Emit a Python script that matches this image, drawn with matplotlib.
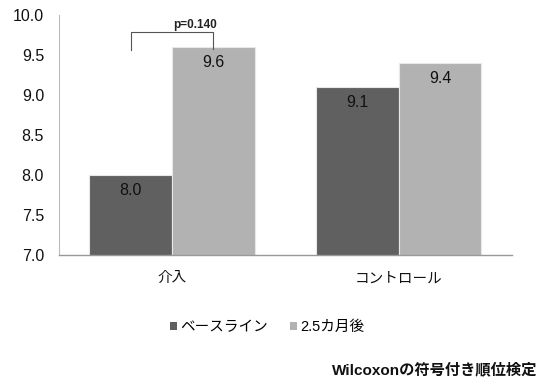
import matplotlib
matplotlib.use("Agg")
import matplotlib.pyplot as plt
import numpy as np
from matplotlib.patches import Patch

plt.rcParams['font.family'] = ['Liberation Sans', 'Noto Sans CJK JP', 'DejaVu Sans']

categories = ["介入", "コントロール"]
series_names = ["ベースライン", "2.5カ月後"]
baseline = [8.0, 9.1]
after = [9.6, 9.4]
yticks = [7.0, 7.5, 8.0, 8.5, 9.0, 9.5, 10.0]
p_label = "p=0.140"
note = "Wilcoxonの符号付き順位検定"

dark = "#606060"
light = "#b2b2b2"

fig = plt.figure(figsize=(5.43, 3.85), dpi=100)
ax = fig.add_axes([0.108, 0.3385, 0.835, 0.6225])

x = np.arange(len(categories))
w = 0.365
ax.bar(x - w/2, baseline, w, color=dark, edgecolor="#e8e8e8", linewidth=0.8)
ax.bar(x + w/2, after, w, color=light, edgecolor="#e8e8e8", linewidth=0.8)

ax.set_ylim(7.0, 10.0)
ax.set_xlim(-0.5, 1.5)
ax.set_yticks(yticks)
ax.set_yticklabels([f"{v:.1f}" for v in yticks], fontsize=11.5, color="#111111")
ax.set_xticks(x)
ax.set_xticklabels(categories, fontsize=10.5, color="#111111")
ax.tick_params(axis="both", length=0)
ax.tick_params(axis="x", pad=12)
ax.tick_params(axis="y", pad=10.5)

for s in ["top", "right"]:
    ax.spines[s].set_visible(False)
ax.spines["left"].set_color("#bbbbbb")
ax.spines["left"].set_linewidth(0.8)
ax.spines["bottom"].set_color("#999999")
ax.spines["bottom"].set_linewidth(1.0)

for i in range(len(categories)):
    ax.text(x[i] - w/2, baseline[i] - 0.1, f"{baseline[i]:.1f}", ha="center", va="top",
            fontsize=11.5, color="#111111")
    ax.text(x[i] + w/2, after[i] - 0.1, f"{after[i]:.1f}", ha="center", va="top",
            fontsize=11.5, color="#111111")

# significance bracket
xl, xr = x[0] - w/2, x[0] + w/2
ytop = 9.79
ax.plot([xl, xl, xr, xr], [9.56, ytop, ytop, 9.57], color="#555555", lw=0.8, clip_on=False)
ax.text(0.102, 9.87, p_label, ha="center", va="center",
        fontsize=8.5, fontweight="bold", color="#222222")

handles = [Patch(facecolor=dark, edgecolor="none"), Patch(facecolor=light, edgecolor="none")]
fig.legend(handles, series_names, loc="center", bbox_to_anchor=(0.492, 0.15), ncol=2,
           frameon=False, fontsize=10.5, handlelength=0.5, handleheight=0.5,
           handletextpad=0.2, columnspacing=1.5)

fig.text(0.99, 1 - 370/385, note, ha="right", va="center", fontsize=11,
         fontweight="bold", color="#111111")

fig.savefig("out.png", dpi=100)
